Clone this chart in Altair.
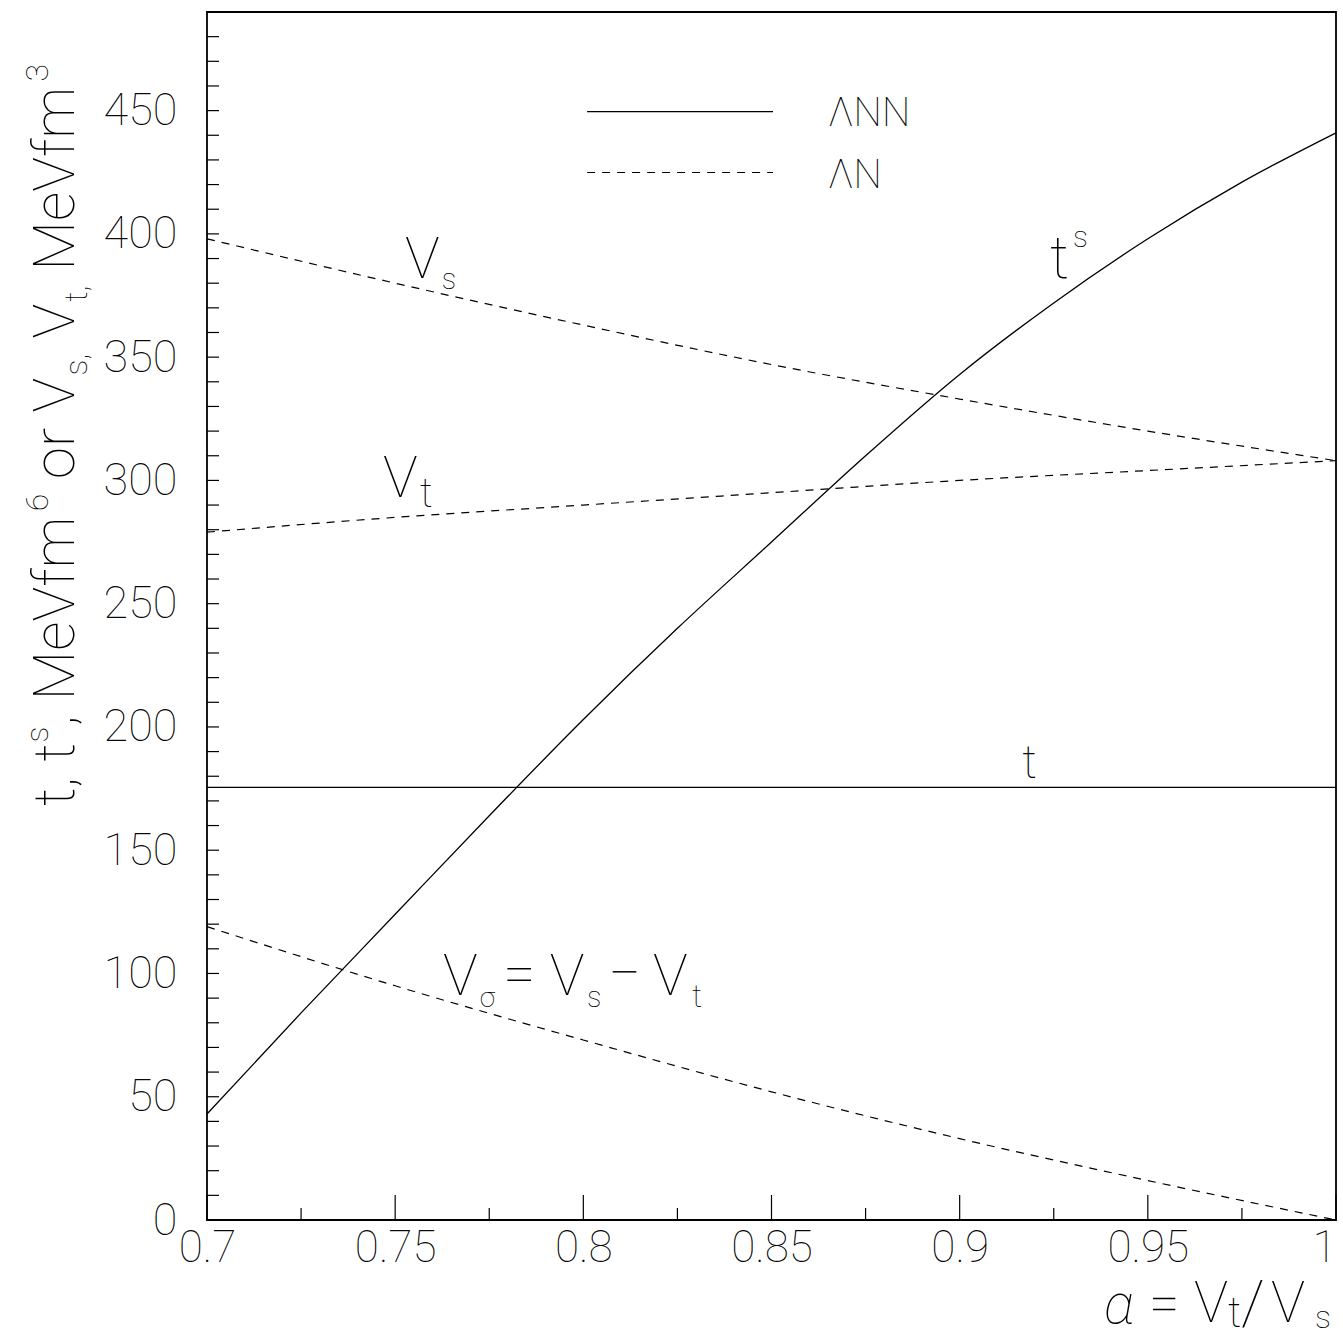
import altair as alt
import pandas as pd

FONT = "Roboto"
FW = 100
TOP = 0.99  # text opacity

# ---------------- data ----------------
alpha_ts = [0.7, 0.725, 0.75, 0.775, 0.8, 0.825, 0.85, 0.875, 0.9, 0.925, 0.95, 0.975, 1.0]
ts_vals = [43, 84, 124, 164, 203, 240, 275, 310, 343, 372, 398, 421, 441]

alpha_t = [0.7, 1.0]
t_vals = [175.5, 175.5]

alpha_v = [0.7, 0.75, 0.8, 0.85, 0.9, 0.95, 1.0]
vs_vals = [398, 380, 363, 347, 333, 320, 308]
vt_vals = [279, 285, 290, 295, 300, 304, 308]
vsig_vals = [119, 95, 73, 52, 33, 16, 0]

x_major = [0.7, 0.75, 0.8, 0.85, 0.9, 0.95, 1.0]
x_minor = [0.725, 0.775, 0.825, 0.875, 0.925, 0.975]
y_major = [0, 50, 100, 150, 200, 250, 300, 350, 400, 450]
y_ticks = list(range(0, 490, 10))

legend_labels = ["\u039bNN", "\u039bN"]

# ---------------- tables ----------------
solid = pd.concat([
    pd.DataFrame({"a": alpha_ts, "v": ts_vals, "s": "ts"}),
    pd.DataFrame({"a": alpha_t, "v": t_vals, "s": "t"}),
])
dashed = pd.concat([
    pd.DataFrame({"a": alpha_v, "v": vs_vals, "s": "Vs"}),
    pd.DataFrame({"a": alpha_v, "v": vt_vals, "s": "Vt"}),
    pd.DataFrame({"a": alpha_v, "v": vsig_vals, "s": "Vsig"}),
])

xs = alt.Scale(domain=[0.7, 1.0], nice=False, zero=False)
ys = alt.Scale(domain=[0, 490], nice=False, zero=False)

X_AXIS = alt.Axis(values=x_major, format="~g", ticks=False, domain=False, grid=False, title=None,
                  labelFont=FONT, labelFontWeight=FW, labelFontSize=44, labelColor="black",
                  labelOpacity=TOP, labelPadding=6, labelFlush=False, labelOverlap=False,
                  labelAlign={"condition": {"test": "datum.value >= 1", "value": "right"},
                              "value": "center"})
Y_AXIS = alt.Axis(values=y_major, ticks=False, domain=False, grid=False, title=None,
                  labelFont=FONT, labelFontWeight=FW, labelFontSize=45, labelColor="black",
                  labelOpacity=TOP, labelPadding=30, labelFlush=False, labelOverlap=False)


def X(f):
    return alt.X(f, scale=xs, axis=X_AXIS, title=None)


def Y(f):
    return alt.Y(f, scale=ys, axis=Y_AXIS, title=None)


W, H = 1129, 1208
OX, OY = 207, 12  # plot origin in page pixels

main = alt.Chart(solid).mark_line(color="black", strokeWidth=1.3, interpolate="monotone").encode(
    x=X("a:Q"), y=Y("v:Q"), detail="s:N")

dash = alt.Chart(dashed).mark_line(color="black", strokeWidth=1.2, strokeDash=[8, 7],
                                   interpolate="monotone").encode(
    x=X("a:Q"), y=Y("v:Q"), detail="s:N")

# tick marks (inward)
yt = alt.Chart(pd.DataFrame({"v": y_ticks})).mark_rule(color="black", strokeWidth=1.2).encode(
    y=Y("v:Q"), x=alt.value(0), x2=alt.value(12))
xt_major = alt.Chart(pd.DataFrame({"a": x_major})).mark_rule(color="black", strokeWidth=1.2).encode(
    x=X("a:Q"), y=alt.value(H), y2=alt.value(H - 25))
xt_minor = alt.Chart(pd.DataFrame({"a": x_minor})).mark_rule(color="black", strokeWidth=1.2).encode(
    x=X("a:Q"), y=alt.value(H), y2=alt.value(H - 12))

# legend
leg_solid = alt.Chart(pd.DataFrame({"a": [0.801], "a2": [0.8504], "v": [449.6]})).mark_rule(
    color="black", strokeWidth=1.3).encode(x=X("a:Q"), x2="a2:Q", y=Y("v:Q"))
leg_dash = alt.Chart(pd.DataFrame({"a": [0.801], "a2": [0.8504], "v": [424.9]})).mark_rule(
    color="black", strokeWidth=1.2, strokeDash=[8, 7]).encode(x=X("a:Q"), x2="a2:Q", y=Y("v:Q"))
leg_text = alt.Chart(pd.DataFrame({"a": [0.865, 0.865], "v": [443.9, 418.8], "t": legend_labels})).mark_text(
    font=FONT, fontWeight=FW, fontSize=40, align="left", baseline="alphabetic", color="black",
    opacity=TOP).encode(x=X("a:Q"), y=Y("v:Q"), text="t:N")

# in-plot annotations (data coordinates)
ann = pd.DataFrame([
    ("V", 0.7526, 382.3, 58), ("s", 0.7624, 377.8, 29),
    ("V", 0.7468, 293.1, 58), ("t", 0.7566, 289.1, 40),
    ("t", 0.9240, 382.3, 60), ("s", 0.9301, 394.5, 30),
    ("t", 0.9166, 179.2, 46),
    ("V", 0.7627, 91.2, 58), ("\u03c3", 0.7725, 86.4, 28), ("=", 0.7787, 92.0, 58),
    ("V", 0.7911, 91.2, 58), ("s", 0.8010, 86.4, 29), ("\u2212", 0.8066, 92.0, 58),
    ("V", 0.8185, 91.2, 58), ("t", 0.8289, 86.4, 32),
], columns=["t", "a", "v", "fs"])
ann_layer = alt.Chart(ann).mark_text(font=FONT, fontWeight=FW, align="left", baseline="alphabetic",
                                     color="black", opacity=TOP).encode(
    x=X("a:Q"), y=Y("v:Q"), text="t:N", size=alt.Size("fs:Q", scale=None, legend=None))

one = pd.DataFrame({"z": [0]})


def piece(s, absx, absy, size, angle=0, style="normal"):
    return alt.Chart(one).mark_text(text=s, font=FONT, fontWeight=FW, fontSize=size, angle=angle,
                                    fontStyle=style, align="left", baseline="alphabetic",
                                    color="black", opacity=TOP).encode(
        x=alt.value(absx - OX), y=alt.value(absy - OY))


# approximate advance widths (em) used to chain the rotated title pieces
ADV = {"t": 0.328, ",": 0.192, " ": 0.248, "M": 0.873, "e": 0.529, "V": 0.636, "f": 0.346,
       "m": 0.877, "o": 0.559, "r": 0.338, "s": 0.516, "6": 0.562, "3": 0.562}

MAIN, SCR = 58, 32
BASE = {"main": 74, "sup": 48, "sub": 87}
title_runs = [  # (text, kind, spaces before)
    ("t,", "main", 0), ("t", "main", 1), ("s", "sup", 0), (",", "main", 0),
    ("MeVfm", "main", 1), ("6", "sup", 0), ("or", "main", 1), ("V", "main", 1),
    ("s,", "sub", 0), ("V", "main", 1), ("t,", "sub", 0), ("MeVfm", "main", 1), ("3", "sup", 0),
]
ytitle = []
pos = 806.0
for txt, kind, sp in title_runs:
    pos -= sp * ADV[" "] * MAIN
    size = MAIN if kind == "main" else SCR
    ytitle.append(piece(txt, BASE[kind], pos, size, 270))
    pos -= sum(ADV[c] for c in txt) * size

# x-axis title: alpha = V_t / V_s
xtitle = [
    piece("\u03b1", 1104, 1323, 56, 0, "italic"),
    piece("=", 1149, 1322, 55),
    piece("V", 1194, 1322, 57),
    piece("t", 1228, 1327, 42),
    piece("/", 1241, 1324, 62),
    piece("V", 1271, 1322, 57),
    piece("s", 1315, 1328, 32),
]

chart = alt.layer(main, dash, yt, xt_major, xt_minor, leg_solid, leg_dash, leg_text, ann_layer,
                  *ytitle, *xtitle).properties(
    width=W, height=H,
    autosize=alt.AutoSizeParams(type="none"),
    padding={"left": OX, "top": OY, "right": 1343 - OX - W, "bottom": 1339 - OY - H},
    background="white",
).configure_view(stroke="black", strokeWidth=1.8)

chart.save("out.html", embed_options={"renderer": "svg", "actions": False})
